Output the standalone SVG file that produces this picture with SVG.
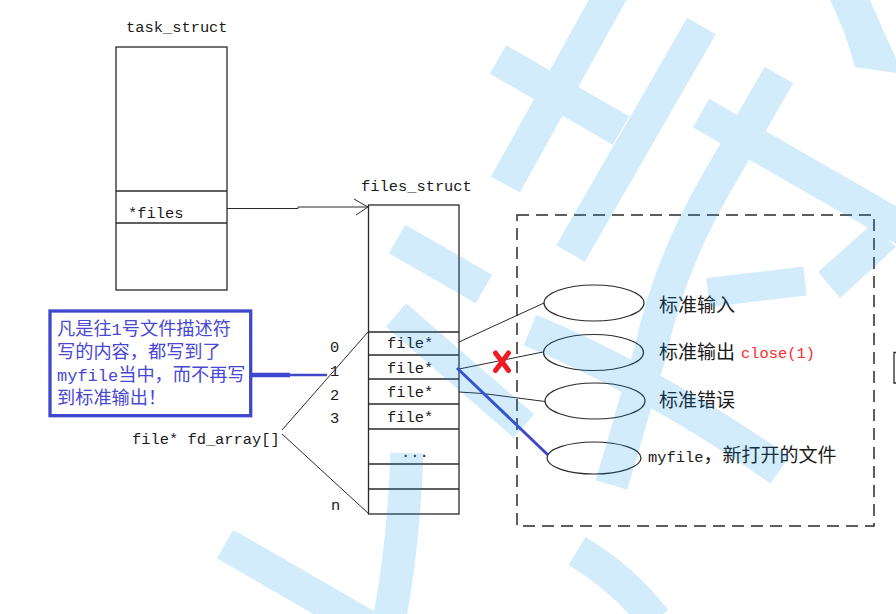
<svg xmlns="http://www.w3.org/2000/svg" width="896" height="614" viewBox="0 0 896 614">
<style>
.mono{font-family:"Liberation Mono","Noto Sans CJK SC",monospace;font-size:15.4px;fill:#1a1a1a}
.cjk{font-family:"Noto Sans CJK SC","Noto Sans",sans-serif;font-size:19px;fill:#1a1a1a}
.box{fill:none;stroke:#2a2a2a;stroke-width:1.3}
.conn{fill:none;stroke:#2a2a2a;stroke-width:1}
.ell{fill:#fff;stroke:#2a2a2a;stroke-width:1.2}
.note{font-family:"Noto Sans CJK SC",sans-serif;font-size:18.2px;fill:#4848d4}
.nm{font-family:"Liberation Mono",monospace;font-size:17px;fill:#4848d4}
.wm{fill:none;stroke:#0096f0;stroke-width:33}
</style>
<defs>
<marker id="open" viewBox="0 0 16 18" refX="15" refY="9" markerWidth="16" markerHeight="18" markerUnits="userSpaceOnUse" orient="auto">
<path d="M1,1 L15,9 L3,17" fill="none" stroke="#2a2a2a" stroke-width="1"/>
</marker>
</defs>
<rect width="896" height="614" fill="#fff"/>

<g id="task_struct">
<text class="mono" x="126" y="32">task_struct</text>
<rect class="box" x="116" y="47" width="111" height="243"/>
<line class="box" x1="116" y1="191" x2="227" y2="191"/>
<line class="box" x1="116" y1="223" x2="227" y2="223"/>
<text class="mono" x="128" y="218">*files</text>
</g>

<g id="files_struct">
<text class="mono" x="361" y="191">files_struct</text>
<rect class="box" x="368.5" y="205" width="90.5" height="309"/>
<line class="box" x1="368.5" y1="332" x2="459" y2="332"/>
<line class="box" x1="368.5" y1="355" x2="459" y2="355"/>
<line class="box" x1="368.5" y1="379" x2="459" y2="379"/>
<line class="box" x1="368.5" y1="404" x2="459" y2="404"/>
<line class="box" x1="368.5" y1="429" x2="459" y2="429"/>
<line class="box" x1="368.5" y1="464" x2="459" y2="464"/>
<line class="box" x1="368.5" y1="489" x2="459" y2="489"/>
<text class="mono" x="387" y="348">file*</text>
<text class="mono" x="387" y="373">file*</text>
<text class="mono" x="387" y="397">file*</text>
<text class="mono" x="387" y="422">file*</text>
<text class="mono" x="401" y="457">...</text>
</g>

<g id="fd_array">
<text class="mono" x="330" y="352">0</text>
<text class="mono" x="330" y="376">1</text>
<text class="mono" x="330" y="400">2</text>
<text class="mono" x="330" y="423">3</text>
<text class="mono" x="331" y="510">n</text>
<text class="mono" x="132" y="444">file* fd_array[]</text>
</g>

<g id="open_files">
<rect x="517" y="215" width="357" height="311" fill="none" stroke="#2a2a2a" stroke-width="1.5" stroke-dasharray="12 7"/>
</g>

<g id="connectors">
<path class="conn" d="M227,208.5 L298,208.5 L298,207 L368,207" marker-end="url(#open)"/>
<path class="conn" d="M282,430 L368,332"/>
<path class="conn" d="M282,434 L368,513"/>
<path class="conn" d="M459,342 L544,303"/>
<path class="conn" d="M459,369 L543,352"/>
<path class="conn" d="M459,392 L483,393.5 L545,401.5"/>
<line x1="252" y1="375" x2="290" y2="375" stroke="#3f48cc" stroke-width="4.5"/>
<line x1="289" y1="375" x2="327" y2="375" stroke="#3f48cc" stroke-width="2.7"/>
<line x1="457" y1="368" x2="548" y2="455" stroke="#3f48cc" stroke-width="3"/>
</g>

<g id="stdin">
<ellipse class="ell" cx="594" cy="303" rx="50" ry="18"/>
<text class="cjk" x="659" y="312">标准输入</text>
</g>
<g id="stdout">
<ellipse class="ell" cx="593.5" cy="352.5" rx="50" ry="18"/>
<text class="cjk" x="659" y="359">标准输出</text>
<text class="mono" x="741" y="357.5" style="fill:#ff2a2a">close(1)</text>
</g>
<g id="stderr">
<ellipse class="ell" cx="595" cy="401" rx="50" ry="18"/>
<text class="cjk" x="659" y="406.5">标准错误</text>
</g>
<g id="myfile">
<ellipse class="ell" cx="594" cy="458" rx="47" ry="16"/>
<text class="mono" x="648" y="462">myfile</text>
<text class="cjk" x="703.5" y="462">，新打开的文件</text>
</g>

<g id="note">
<rect x="50" y="311" width="200.7" height="104.7" fill="#fff" stroke="#3f48cc" stroke-width="3.3"/>
<text class="note" x="57" y="335">凡是往</text>
<text class="nm" x="111.6" y="335">1</text>
<text class="note" x="121.8" y="335">号文件描述符</text>
<text class="note" x="57" y="358">写的内容，都写到了</text>
<text class="nm" x="57" y="381">myfile</text>
<text class="note" x="118.2" y="381">当中，而不再写</text>
<text class="note" x="57" y="404">到标准输出！</text>
</g>

<g id="closed_mark" stroke="#ee1c24" stroke-width="5" stroke-linecap="round">
<line x1="495.5" y1="353" x2="508.5" y2="370.5"/>
<line x1="508.5" y1="353" x2="495.5" y2="370.5"/>
</g>

<g id="edge_fragment">
<path d="M896,352.5 H894 V383 H896" fill="none" stroke="#2a2a2a" stroke-width="1.3"/>
</g>

<g id="watermark" opacity="0.17">
<path class="wm" d="M612,-8 L505.5,184.5"/>
<path class="wm" d="M498,59.5 L621,130.5"/>
<path class="wm" d="M701.5,26 L570.5,253.5"/>
<path class="wm" d="M779,75 L716,184 Q668,268 651,350 L611.5,485"/>
<path class="wm" d="M701,113 L910,233"/>
<path class="wm" d="M708,292.5 L805,281" style="stroke-width:29"/>
<path d="M830,0 L870,0 Q885,35 896,58 L896,73 L855,67 Q845,30 830,0 Z" fill="#0096f0"/>
<path d="M896,247 L840,298 L818,272 L872,224 Z" fill="#0096f0"/>
<path class="wm" d="M397,239 L484,289"/>
<path class="wm" d="M396,315 L524,426" style="stroke-width:31"/>
<path class="wm" d="M530,330 Q650,380 780,470"/>
<path class="wm" d="M225,544 L400,645"/>
<path class="wm" d="M407,453 Q403,560 385,640"/>
<path class="wm" d="M577,551 Q625,580 655,620"/>
</g>
</svg>
